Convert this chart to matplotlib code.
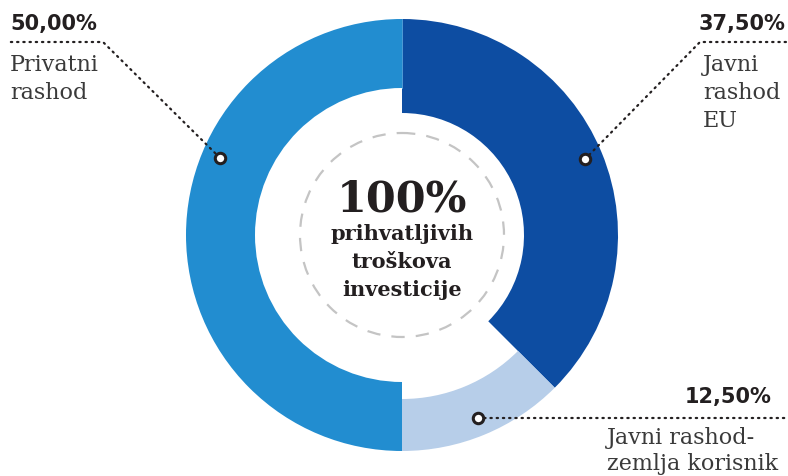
import numpy as np
import matplotlib
matplotlib.use("Agg")
import matplotlib.pyplot as plt
from matplotlib.patches import Wedge, Circle

# udjeli u prihvatljivim troskovima (od vrha, u smjeru kazaljke)
labels = [["Javni", "rashod", "EU"], ["Javni rashod-", "zemlja korisnik"],
          ["Privatni", "rashod"]]
percent_txt = ["37,50%", "12,50%", "50,00%"]
values = [37.5, 12.5, 50.0]
colors = ["#0d4da2", "#b7cee9", "#228dd0"]
inner_r = [122, 164, 147]   # svaki dio ima drugu debljinu

cx, cy, R = 402, 235, 216
ink = "#231f20"
grey = "#3a3a3a"

fig = plt.figure(figsize=(7.88, 4.76), dpi=100)
ax = fig.add_axes([0, 0, 1, 1])
ax.set_xlim(0, 788)
ax.set_ylim(476, 0)
ax.set_aspect("equal")
ax.axis("off")

# y os je okrenuta, pa rastuci kut ide u smjeru kazaljke
start = 270.0
for v, c, ri in zip(values, colors, inner_r):
    span = v / sum(values) * 360
    ax.add_patch(Wedge((cx, cy), R, start, start + span, width=R - ri,
                       facecolor=c, edgecolor="none"))
    start += span

# tanka crta na spoju gore
ax.plot([cx, cx], [cy - R, cy - 147], color="#5aa8df", lw=0.6)

# isprekidani krug u sredini
ax.add_patch(Circle((cx, cy), 102, fill=False, edgecolor="#c4c4c4",
                    lw=1.6, linestyle=(0, (6, 5))))

ax.text(cx, 212, "100%", ha="center", va="baseline", fontsize=31,
        fontweight="bold", family="DejaVu Serif", color=ink)
for i, t in enumerate(["prihvatljivih", "troškova", "investicije"]):
    ax.text(cx, 240 + 28 * i, t, ha="center", va="baseline", fontsize=15,
            fontweight="bold", family="DejaVu Serif", color=ink)


def block(x, y0, lines, step=28):
    for i, t in enumerate(lines):
        ax.text(x, y0 + step * i, t, ha="left", va="baseline", fontsize=16,
                family="DejaVu Serif", color=grey)


# kut markera (od vrha, u smjeru kazaljke)
marker_deg = [67.5, 157.5, 293]
marker_r = 198
dots = dict(color=ink, lw=1.6, linestyle=(0, (0.6, 2.2)),
            dash_capstyle="round")

pts = []
for d in marker_deg:
    a = np.deg2rad(d)
    pts.append((cx + marker_r * np.sin(a), cy - marker_r * np.cos(a)))

# desno gore: EU
mx, my = pts[0]
ax.plot([mx, 700, 788], [my, 42, 42], **dots)
ax.text(785, 30, percent_txt[0], ha="right", va="baseline", fontsize=15,
        fontweight="bold", color=ink)
block(703, 71, labels[0])

# dolje: zemlja korisnik
mx, my = pts[1]
ax.plot([mx, 785], [my, my], **dots)
ax.text(772, 403, percent_txt[1], ha="right", va="baseline", fontsize=15,
        fontweight="bold", color=ink)
block(607, 444, labels[1], step=26)

# lijevo: privatni
mx, my = pts[2]
ax.plot([mx, 103, 10], [my, 42, 42], **dots)
ax.text(10, 30, percent_txt[2], ha="left", va="baseline", fontsize=15,
        fontweight="bold", color=ink)
block(10, 71, labels[2])

for mx, my in pts:
    ax.plot(mx, my, "o", ms=7.5, mfc="white", mec=ink, mew=2.2, zorder=5)

fig.savefig("out.png", dpi=100)
